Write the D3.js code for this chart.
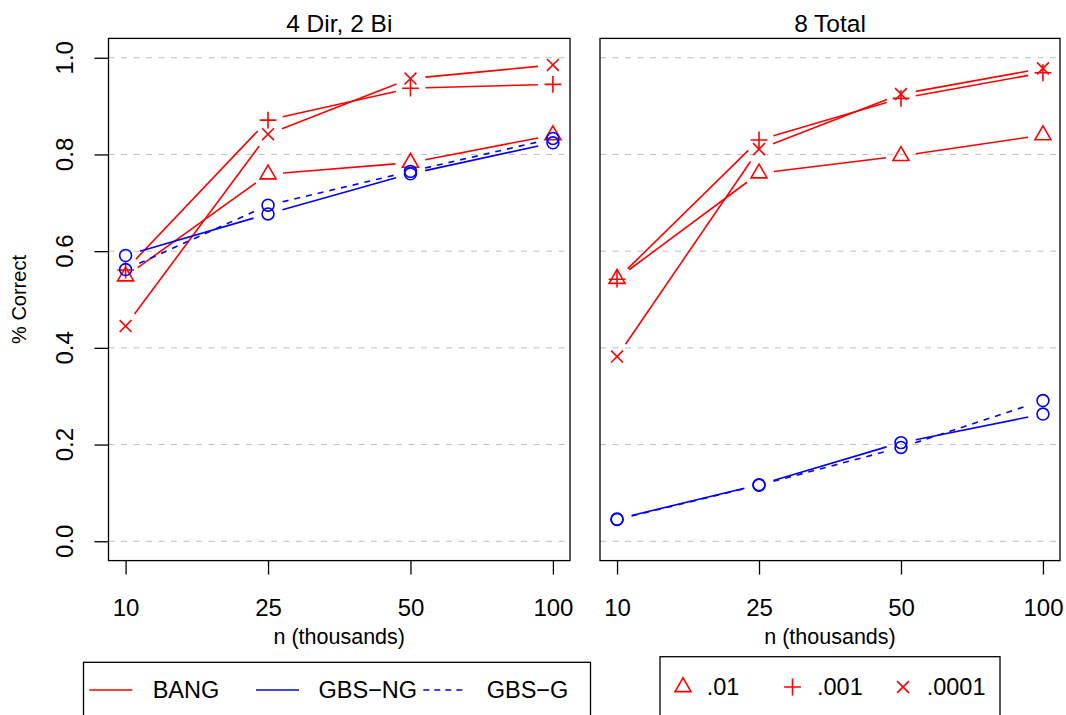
<!DOCTYPE html>
<html>
<head>
<meta charset="utf-8">
<script src="https://cdn.jsdelivr.net/npm/d3@7"></script>
<style>
  html, body { margin: 0; padding: 0; background: #fff; }
  svg { display: block; font-family: "Liberation Sans", Arial, Helvetica, sans-serif; }
</style>
</head>
<body>
<svg id="chart" width="1066" height="715"></svg>
<script>
// Sample sizes (thousands) along the x axis
const sampleSizes = ["10", "25", "50", "100"];
const yTicks = [0, 0.2, 0.4, 0.6, 0.8, 1.0];
const panelTitles = ["4 Dir, 2 Bi", "8 Total"];

// Panel 1: 4 Dir, 2 Bi
const bangP01Dir   = [0.548, 0.759, 0.783, 0.840];
const bangP001Dir  = [0.561, 0.871, 0.937, 0.945];
const bangP0001Dir = [0.445, 0.842, 0.957, 0.985];
const gbsNgDir     = [0.591, 0.677, 0.760, 0.824];
const gbsGDir      = [0.562, 0.695, 0.765, 0.833];

// Panel 2: 8 Total
const bangP01Tot   = [0.543, 0.761, 0.797, 0.840];
const bangP001Tot  = [0.542, 0.830, 0.916, 0.969];
const bangP0001Tot = [0.382, 0.811, 0.925, 0.978];
const gbsNgTot     = [0.046, 0.117, 0.204, 0.263];
const gbsGTot      = [0.045, 0.116, 0.194, 0.291];

const methodLabels = ["BANG", "GBS\u2212NG", "GBS\u2212G"];
const alphaLabels = [".01", ".001", ".0001"];

const RED = "#FF0000", BLUE = "#0000FF";

const panels = [
  { title: panelTitles[0], x0: 108.5, x1: 570, axisY: true,
    series: [
      { values: bangP01Dir,   color: RED,  pch: "triangle", dash: null },
      { values: bangP001Dir,  color: RED,  pch: "plus",     dash: null },
      { values: bangP0001Dir, color: RED,  pch: "cross",    dash: null },
      { values: gbsNgDir,     color: BLUE, pch: "circle",   dash: null },
      { values: gbsGDir,      color: BLUE, pch: "circle",   dash: "6,6" }
    ] },
  { title: panelTitles[1], x0: 600, x1: 1060, axisY: false,
    series: [
      { values: bangP01Tot,   color: RED,  pch: "triangle", dash: null },
      { values: bangP001Tot,  color: RED,  pch: "plus",     dash: null },
      { values: bangP0001Tot, color: RED,  pch: "cross",    dash: null },
      { values: gbsNgTot,     color: BLUE, pch: "circle",   dash: null },
      { values: gbsGTot,      color: BLUE, pch: "circle",   dash: "6,6" }
    ] }
];

const svg = d3.select("#chart");
const plotTop = 38.4, plotBottom = 560.6;
const y = d3.scaleLinear().domain([-0.04, 1.04]).range([plotBottom, plotTop]);

const S = 5.94;       // base symbol size (px)
const GAP = 15;       // gap left around points on connecting lines
const LW = 1.6;

function symbolPath(pch, cx, cy) {
  if (pch === "circle") {
    const p = d3.path(); p.moveTo(cx + S, cy); p.arc(cx, cy, S, 0, 2 * Math.PI); return p.toString();
  }
  if (pch === "triangle") {
    const r = 1.5551 * S, hx = 1.3468 * S, yc = 0.7776 * S;
    return `M${cx},${cy - r}L${cx + hx},${cy + yc}L${cx - hx},${cy + yc}Z`;
  }
  if (pch === "plus") {
    const h = Math.SQRT2 * S;
    return `M${cx - h},${cy}H${cx + h}M${cx},${cy - h}V${cy + h}`;
  }
  const h = S;
  return `M${cx - h},${cy - h}L${cx + h},${cy + h}M${cx - h},${cy + h}L${cx + h},${cy - h}`;
}

panels.forEach(pn => {
  const x = d3.scalePoint().domain(sampleSizes).range([pn.x0, pn.x1]).padding(0.12);
  const g = svg.append("g");

  // horizontal reference lines
  g.selectAll("line.grid").data(yTicks).join("line")
    .attr("x1", pn.x0).attr("x2", pn.x1)
    .attr("y1", d => y(d)).attr("y2", d => y(d))
    .attr("stroke", "#BEBEBE").attr("stroke-width", 1).attr("stroke-dasharray", "6,6.5");

  // connecting lines with gaps around each point
  pn.series.forEach(s => {
    const pts = s.values.map((v, i) => [x(sampleSizes[i]), y(v)]);
    const segs = [];
    for (let i = 1; i < pts.length; i++) {
      const [xa, ya] = pts[i - 1], [xb, yb] = pts[i];
      const d = Math.hypot(xb - xa, yb - ya), f = GAP / d;
      if (f < 0.5) segs.push([[xa + f * (xb - xa), ya + f * (yb - ya)], [xb - f * (xb - xa), yb - f * (yb - ya)]]);
    }
    g.selectAll(null).data(segs).join("path")
      .attr("d", d3.line())
      .attr("fill", "none").attr("stroke", s.color).attr("stroke-width", LW)
      .attr("stroke-dasharray", s.dash);
  });

  // point symbols
  pn.series.forEach(s => {
    g.selectAll(null).data(s.values).join("path")
      .attr("d", (v, i) => symbolPath(s.pch, x(sampleSizes[i]), y(v)))
      .attr("fill", "none").attr("stroke", s.color).attr("stroke-width", LW);
  });

  // frame
  g.append("rect").attr("x", pn.x0).attr("y", plotTop)
    .attr("width", pn.x1 - pn.x0).attr("height", plotBottom - plotTop)
    .attr("fill", "none").attr("stroke", "#000").attr("stroke-width", 1.3);

  // x axis
  const xa = g.append("g").attr("transform", `translate(0,${plotBottom})`)
    .call(d3.axisBottom(x).tickSize(14).tickPadding(24));
  xa.select(".domain").remove();
  xa.selectAll(".tick line").attr("stroke", "#000").attr("stroke-width", 1.3);
  xa.selectAll(".tick text").attr("font-size", 24).attr("fill", "#000")
    .attr("font-family", "Liberation Sans, Arial, sans-serif");

  g.append("text").attr("x", (pn.x0 + pn.x1) / 2).attr("y", 644)
    .attr("text-anchor", "middle").attr("font-size", 21.5).text("n (thousands)");

  // panel title
  g.append("text").attr("x", (pn.x0 + pn.x1) / 2).attr("y", 31.5)
    .attr("text-anchor", "middle").attr("font-size", 24.5).text(pn.title);

  if (pn.axisY) {
    const ya = g.append("g").attr("transform", `translate(${pn.x0},0)`)
      .call(d3.axisLeft(y).tickValues(yTicks).tickSize(14).tickFormat(""));
    ya.select(".domain").remove();
    ya.selectAll(".tick line").attr("stroke", "#000").attr("stroke-width", 1.3);
    g.selectAll("text.ylab").data(yTicks).join("text")
      .attr("transform", d => `translate(72.5,${y(d)}) rotate(-90)`)
      .attr("text-anchor", "middle").attr("font-size", 24)
      .text(d3.format(".1f"));
    g.append("text").attr("transform", `translate(26,${(plotTop + plotBottom) / 2}) rotate(-90)`)
      .attr("text-anchor", "middle").attr("font-size", 20).text("% Correct");
  }
});

// Legend: methods
const lg1 = svg.append("g");
lg1.append("rect").attr("x", 83.5).attr("y", 662.3).attr("width", 507).attr("height", 80)
  .attr("fill", "none").attr("stroke", "#000").attr("stroke-width", 1.3);
const methodItems = [
  { label: methodLabels[0], color: RED,  dash: null,  lx: 89.3,  tx: 152.7 },
  { label: methodLabels[1], color: BLUE, dash: null,  lx: 256,   tx: 318.5 },
  { label: methodLabels[2], color: BLUE, dash: "6,5", lx: 423.3, tx: 486.7 }
];
methodItems.forEach(it => {
  lg1.append("line").attr("x1", it.lx).attr("x2", it.lx + 43).attr("y1", 690).attr("y2", 690)
    .attr("stroke", it.color).attr("stroke-width", LW).attr("stroke-dasharray", it.dash);
  lg1.append("text").attr("x", it.tx).attr("y", 697.7).attr("font-size", 23.5).text(it.label);
});

// Legend: significance levels
const lg2 = svg.append("g");
lg2.append("rect").attr("x", 660).attr("y", 656.7).attr("width", 340).attr("height", 80)
  .attr("fill", "none").attr("stroke", "#000").attr("stroke-width", 1.3);
const alphaItems = [
  { label: alphaLabels[0], pch: "triangle", sx: 683,   tx: 706.7 },
  { label: alphaLabels[1], pch: "plus",     sx: 792.5, tx: 817 },
  { label: alphaLabels[2], pch: "cross",    sx: 903,   tx: 926.7 }
];
alphaItems.forEach(it => {
  lg2.append("path").attr("d", symbolPath(it.pch, it.sx, 687))
    .attr("fill", "none").attr("stroke", RED).attr("stroke-width", LW);
  lg2.append("text").attr("x", it.tx).attr("y", 695).attr("font-size", 23.5).text(it.label);
});
</script>
</body>
</html>
